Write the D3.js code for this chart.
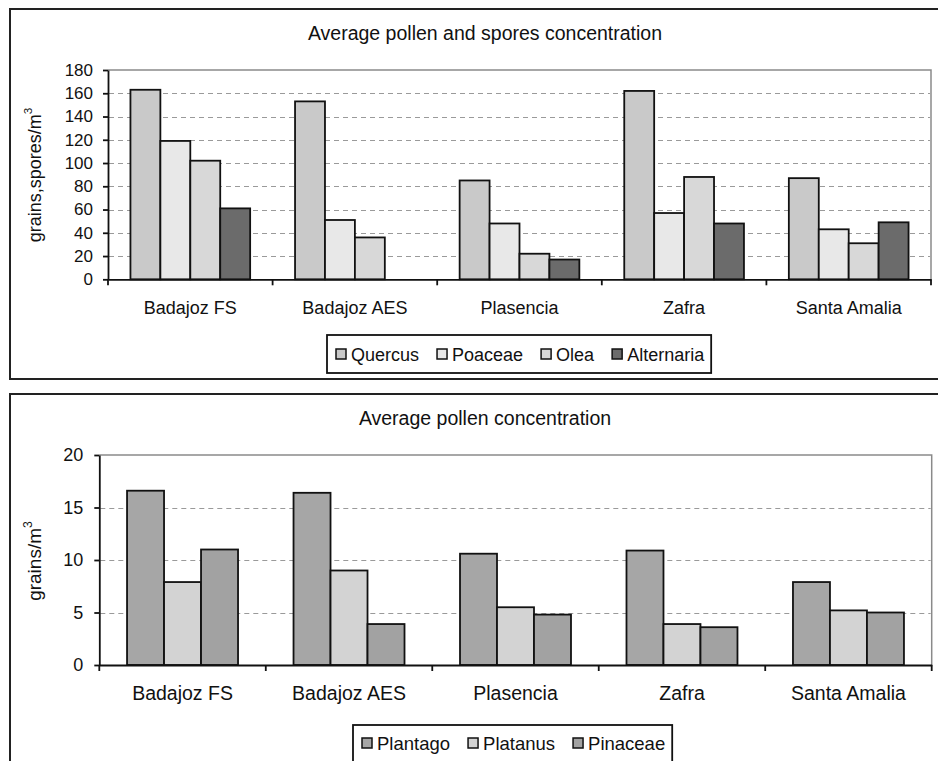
<!DOCTYPE html>
<html><head><meta charset="utf-8">
<script src="https://cdn.jsdelivr.net/npm/d3@7"></script>
<style>body{margin:0;background:#fff}svg{display:block}text{font-family:"Liberation Sans",Arial,sans-serif;fill:#111}</style>
</head><body><svg id="c" width="938" height="761"></svg>
<script>
const sites = ["Badajoz FS","Badajoz AES","Plasencia","Zafra","Santa Amalia"];
// Chart 1
const series1 = ["Quercus","Poaceae","Olea","Alternaria"];
const quercus = [163,153,85,162,87];
const poaceae = [119,51,48,57,43];
const olea = [102,36,22,88,31];
const alternaria = [61,null,17,48,49];
const colors1 = ["#c9c9c9","#e8e8e8","#d8d8d8","#6b6b6b"];
const ticks1 = [0,20,40,60,80,100,120,140,160,180];
// Chart 2
const series2 = ["Plantago","Platanus","Pinaceae"];
const plantago = [16.6,16.4,10.6,10.9,7.9];
const platanus = [7.9,9.0,5.5,3.9,5.2];
const pinaceae = [11.0,3.9,4.8,3.6,5.0];
const colors2 = ["#a6a6a6","#d3d3d3","#a2a2a2"];
const ticks2 = [0,5,10,15,20];

const svg = d3.select("#c");
const FF = '"Liberation Sans",Arial,sans-serif';

function panel(cfg){
  const g = svg.append("g");
  g.append("rect").attr("x",cfg.frame[0]).attr("y",cfg.frame[1]).attr("width",cfg.frame[2]).attr("height",cfg.frame[3])
   .attr("fill","none").attr("stroke","#222").attr("stroke-width",2);
  const [L,T,R,B] = cfg.plot;
  const x0 = d3.scaleBand().domain(sites).range([L,R]).paddingInner(0).paddingOuter(0);
  const n = cfg.series.length;
  const bw = x0.bandwidth()/(n+1.5);
  const y = d3.scaleLinear().domain([0,cfg.max]).range([B,T]);
  g.append("path").attr("d",`M${L},${T}H${R}V${B}`).attr("fill","none").attr("stroke","#8a8a8a").attr("stroke-width",1.5);
  g.selectAll(".grid").data(cfg.ticks.filter(t=>t>0&&t<cfg.max)).join("line")
   .attr("x1",L+1).attr("x2",R-1).attr("y1",d=>Math.round(y(d))+0.5).attr("y2",d=>Math.round(y(d))+0.5)
   .attr("stroke","#9a9a9a").attr("stroke-width",1.2).attr("stroke-dasharray","5,4");
  cfg.series.forEach((s,i)=>{
    g.selectAll(".b"+i).data(sites.map((c,j)=>({c,v:cfg.values[i][j]})).filter(d=>d.v!=null)).join("rect")
     .attr("x",d=>x0(d.c)+bw*0.75+i*bw).attr("width",bw)
     .attr("y",d=>y(d.v)).attr("height",d=>B-y(d.v))
     .attr("fill",cfg.colors[i]).attr("stroke","#111").attr("stroke-width",1.8);
  });
  const ya = g.append("g").attr("transform",`translate(${L},0)`)
    .call(d3.axisLeft(y).tickValues(cfg.ticks).tickSize(5).tickSizeOuter(0));
  ya.select(".domain").attr("stroke","#111").attr("stroke-width",1.8);
  ya.selectAll(".tick line").attr("stroke","#111").attr("stroke-width",1.8);
  ya.selectAll(".tick text").attr("font-size",cfg.fs).attr("fill","#111").attr("x",cfg.ytx)
    .attr("font-family",FF);
  const xa = g.append("g").attr("transform",`translate(0,${B})`)
    .call(d3.axisBottom(x0).tickSize(0).tickSizeOuter(0));
  xa.select(".domain").attr("stroke","#111").attr("stroke-width",1.8);
  xa.selectAll(".tick text").attr("font-size",cfg.xfs).attr("fill","#111").attr("dy",0).attr("y",cfg.xly-B)
    .attr("font-family",FF);
  const bounds = sites.map(c=>x0(c)).concat([R]);
  g.selectAll(".xt").data(bounds).join("line").attr("x1",d=>d).attr("x2",d=>d).attr("y1",B).attr("y2",B+6)
   .attr("stroke","#111").attr("stroke-width",1.8);
  g.append("text").attr("x",cfg.titleX).attr("y",cfg.titleY).attr("text-anchor","middle").attr("font-size",cfg.tfs).text(cfg.title);
  const yl = g.append("text").attr("transform",`translate(${cfg.ylx},${cfg.yly}) rotate(-90)`).attr("text-anchor","middle").attr("font-size",cfg.yfs);
  yl.append("tspan").text(cfg.ylabel);
  yl.append("tspan").attr("font-size",cfg.yfs*0.65).attr("dy",-9).text("3");
  const lg = g.append("g");
  const box = lg.append("rect").attr("fill","#fff").attr("stroke","#111").attr("stroke-width",1.8);
  let cx = cfg.leg[0]+9;
  const cy = cfg.leg[1];
  cfg.series.forEach((s,i)=>{
    lg.append("rect").attr("x",cx).attr("y",cy-5).attr("width",10).attr("height",10).attr("fill",cfg.colors[i]).attr("stroke","#111").attr("stroke-width",1.5);
    const t = lg.append("text").attr("x",cx+15).attr("y",cy+6.5).attr("font-size",cfg.lfs).text(s);
    cx += 15 + t.node().getComputedTextLength() + cfg.lgap;
  });
  box.attr("x",cfg.leg[0]).attr("y",cfg.leg[2]).attr("width",cx-cfg.lgap-cfg.leg[0]+7).attr("height",cfg.leg[3]);
}

panel({frame:[10,9,940,370], plot:[108,70,931,279.3], max:180, ticks:ticks1, series:series1,
  values:[quercus,poaceae,olea,alternaria], colors:colors1, fs:17, ytx:-15, xfs:18, xly:314, title:"Average pollen and spores concentration",
  titleX:485, titleY:40, tfs:19.5, ylx:41, yly:175, ylabel:"grains,spores/m", yfs:18, leg:[327,354,335,38], lfs:18, lgap:18});
panel({frame:[10,394,940,380], plot:[99.3,455,931.7,665], max:20, ticks:ticks2, series:series2,
  values:[plantago,platanus,pinaceae], colors:colors2, fs:18, ytx:-16, xfs:19.5, xly:700, title:"Average pollen concentration",
  titleX:485, titleY:425, tfs:19.5, ylx:41, yly:561, ylabel:"grains/m", yfs:19, leg:[353,743,725,40], lfs:18.5, lgap:18});
</script></body></html>
